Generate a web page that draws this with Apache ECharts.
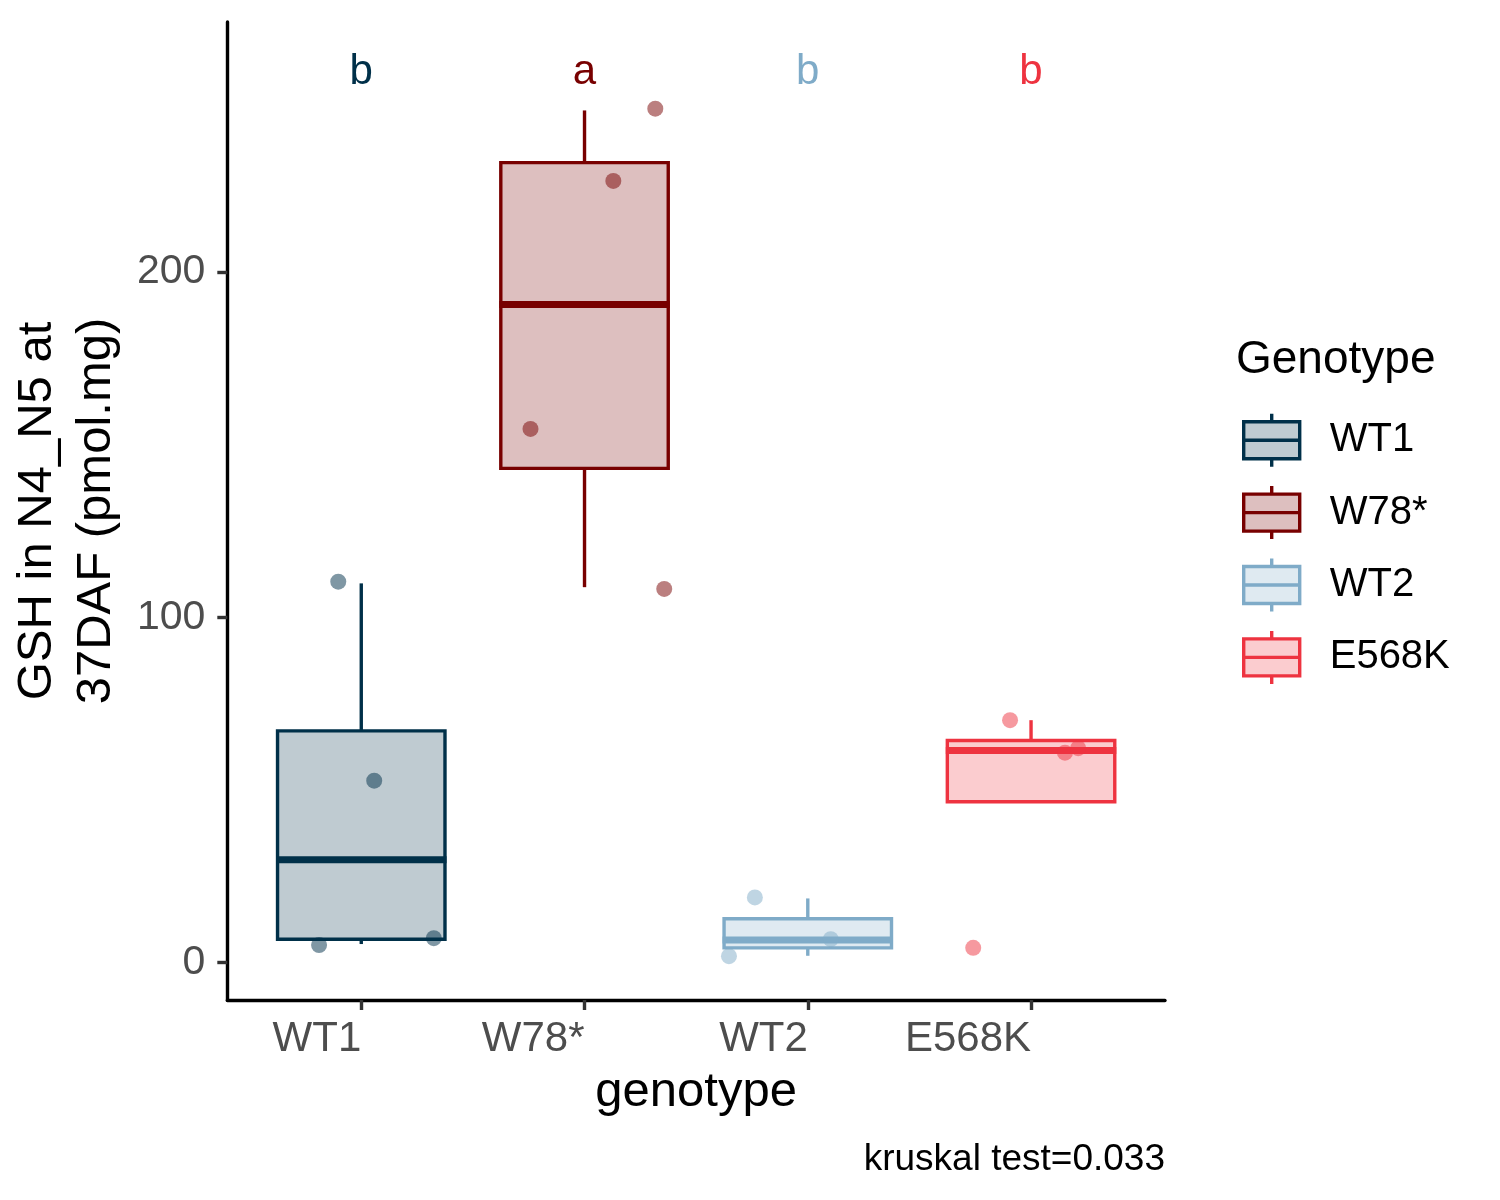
<!DOCTYPE html>
<html>
<head>
<meta charset="utf-8">
<script src="https://cdn.jsdelivr.net/npm/echarts@6/dist/echarts.min.js"></script>
<style>
html,body{margin:0;padding:0;background:#fff;}
#chart{width:1500px;height:1200px;}
</style>
</head>
<body>
<div id="chart"></div>
<script>
// ---- data ----
const categories = ['WT1', 'W78*', 'WT2', 'E568K'];
const boxLow    = [5.4, 108.7, 2.0, 46.6];
const boxQ1     = [6.8, 143.1, 4.3, 46.6];
const boxMedian = [29.8, 190.5, 6.6, 61.4];
const boxQ3     = [67.1, 231.6, 12.7, 64.3];
const boxHigh   = [109.8, 246.7, 18.6, 70.2];
const pointValues = [
  [110.3, 52.7, 5.1, 7.1],
  [247.2, 226.3, 154.5, 108.2],
  [18.9, 6.8, 1.9],
  [70.2, 60.8, 62.1, 4.3]
];
const pointJitter = [
  [-0.103, 0.058, -0.189, 0.325],
  [0.317, 0.129, -0.242, 0.357],
  [-0.237, 0.103, -0.353],
  [-0.094, 0.152, 0.211, -0.259]
];
const letters = ['b', 'a', 'b', 'b'];
const letterY = 259.4;
const yTicks = [0, 100, 200];
const caption = 'kruskal test=0.033';

// ---- styles ----
const strokeColors = ['#003049', '#780000', '#7FABC8', '#EE3340'];
function alpha(hex, a) {
  const r = parseInt(hex.slice(1, 3), 16), g = parseInt(hex.slice(3, 5), 16), b = parseInt(hex.slice(5, 7), 16);
  return 'rgba(' + r + ',' + g + ',' + b + ',' + a + ')';
}
const FONT = '"Liberation Sans", Arial, sans-serif';
const BOX_W = 0.75;
const LW = 3.4;

function renderBox(params, api) {
  const x = api.value(0);
  const pLow = api.coord([x, api.value(1)]);
  const pQ1 = api.coord([x, api.value(2)]);
  const pMed = api.coord([x, api.value(3)]);
  const pQ3 = api.coord([x, api.value(4)]);
  const pHigh = api.coord([x, api.value(5)]);
  const half = api.size([BOX_W, 0])[0] / 2;
  const c = pMed[0];
  const col = strokeColors[params.seriesIndex];
  const children = [];
  if (pHigh[1] < pQ3[1] - 0.5) {
    children.push({type: 'line', shape: {x1: c, y1: pHigh[1], x2: c, y2: pQ3[1]}, style: {stroke: col, lineWidth: LW}});
  }
  if (pLow[1] > pQ1[1] + 0.5) {
    children.push({type: 'line', shape: {x1: c, y1: pQ1[1], x2: c, y2: pLow[1]}, style: {stroke: col, lineWidth: LW}});
  }
  children.push({type: 'rect', shape: {x: c - half, y: pQ3[1], width: 2 * half, height: pQ1[1] - pQ3[1]},
    style: {fill: alpha(col, 0.25), stroke: col, lineWidth: LW}});
  children.push({type: 'line', shape: {x1: c - half - 1.5, y1: pMed[1], x2: c + half + 1.5, y2: pMed[1]},
    style: {stroke: col, lineWidth: 7}});
  return {type: 'group', children: children};
}

const series = [];
categories.forEach(function (cat, i) {
  series.push({
    name: cat,
    type: 'custom',
    renderItem: renderBox,
    itemStyle: {color: strokeColors[i]},
    dimensions: ['x', 'low', 'q1', 'median', 'q3', 'high'],
    encode: {x: 0, y: [1, 2, 3, 4, 5]},
    data: [[i + 1, boxLow[i], boxQ1[i], boxMedian[i], boxQ3[i], boxHigh[i]]],
    z: 2
  });
});
categories.forEach(function (cat, i) {
  series.push({
    name: cat + ' points',
    type: 'scatter',
    symbol: 'circle',
    symbolSize: 16,
    itemStyle: {color: strokeColors[i], opacity: 0.5},
    data: pointValues[i].map(function (v, j) { return [i + 1 + pointJitter[i][j], v]; }),
    z: 3
  });
});
series.push({
  name: 'letters',
  type: 'scatter',
  symbolSize: 0,
  itemStyle: {opacity: 1},
  data: letters.map(function (l, i) {
    return {value: [i + 1, letterY, l],
      label: {show: true, position: 'inside', offset: [0, 6], formatter: l, color: strokeColors[i],
        opacity: 1, fontSize: 42, fontFamily: FONT}};
  }),
  z: 4
});

const legendIcon = 'path://M0,8H56V45H0Z M0,26.5H56 M28,0V8 M28,45V53';

const option = {
  animation: false,
  backgroundColor: '#ffffff',
  title: [
    {text: 'Genotype', left: 1236, top: 337, padding: 0,
      textStyle: {fontSize: 46, fontWeight: 'normal', color: '#000', fontFamily: FONT}},
    {text: caption, right: 335, top: 1141, padding: 0,
      textStyle: {fontSize: 37, fontWeight: 'normal', color: '#000', fontFamily: FONT}}
  ],
  legend: {
    orient: 'vertical',
    left: 1242,
    top: 412,
    padding: 0,
    itemWidth: 56,
    itemHeight: 53,
    itemGap: 16,
    selectedMode: false,
    textStyle: {fontSize: 40, color: '#000', fontFamily: FONT, padding: [0, 0, 0, 25]},
    data: categories.map(function (c, i) {
      return {name: c, icon: legendIcon,
        itemStyle: {color: alpha(strokeColors[i], 0.25), borderColor: strokeColors[i], borderWidth: 3.4}};
    })
  },
  grid: {left: 224, right: 335, top: 22, bottom: 200, containLabel: false},
  xAxis: {
    type: 'value',
    min: 0.4,
    max: 4.6,
    splitLine: {show: false},
    axisLine: {show: true, onZero: false, lineStyle: {color: '#000', width: 3.4}},
    axisTick: {show: true, customValues: [1, 2, 3, 4], length: 10, lineStyle: {color: '#333', width: 3.4}},
    axisLabel: {
      customValues: [1, 2, 3, 4],
      formatter: function (v) { return categories[Math.round(v) - 1]; },
      align: 'right', margin: 18, fontSize: 42, color: '#4D4D4D', fontFamily: FONT
    },
    name: 'genotype',
    nameLocation: 'middle',
    nameGap: 68,
    nameTextStyle: {fontSize: 49, color: '#000', fontFamily: FONT}
  },
  yAxis: {
    type: 'value',
    min: -10.8,
    max: 272.3,
    splitLine: {show: false},
    axisLine: {show: true, onZero: false, lineStyle: {color: '#000', width: 3.4}},
    axisTick: {show: true, customValues: yTicks, length: 10, lineStyle: {color: '#333', width: 3.4}},
    axisLabel: {customValues: yTicks, margin: 22, fontSize: 41, color: '#4D4D4D', fontFamily: FONT},
    name: 'GSH in N4_N5 at\n37DAF (pmol.mg)',
    nameLocation: 'middle',
    nameGap: 87,
    nameTextStyle: {fontSize: 49, lineHeight: 59, color: '#000', fontFamily: FONT}
  },
  series: series
};

const chart = echarts.init(document.getElementById('chart'), null, {renderer: 'canvas'});
chart.setOption(option);
</script>
</body>
</html>
